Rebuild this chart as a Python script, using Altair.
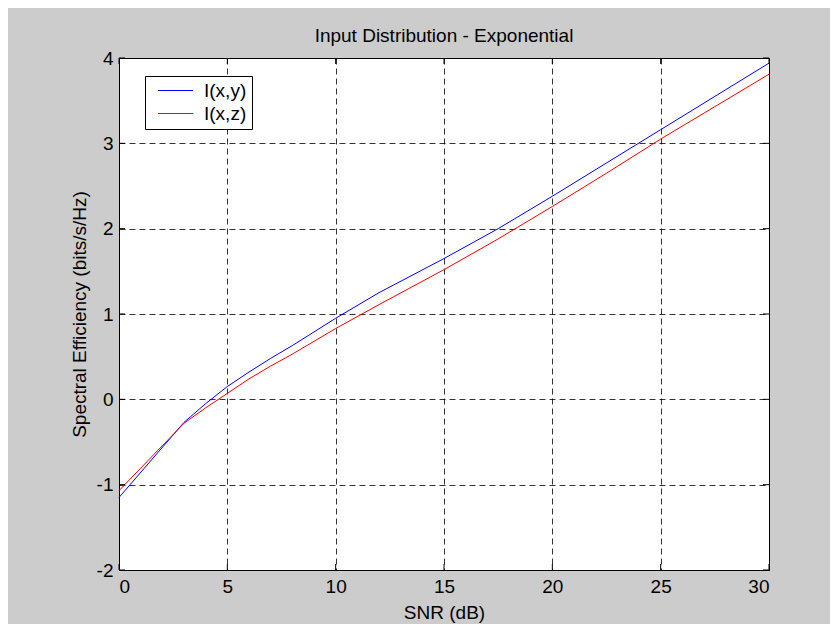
import altair as alt
import pandas as pd

snr = [0, 3, 4, 5, 6, 7, 8, 9, 10, 12, 15, 17.5, 20, 22.5, 25, 27.5, 30]
ixy = [-1.15, -0.27, -0.05, 0.15, 0.32, 0.48, 0.63, 0.79, 0.95, 1.25, 1.65, 2.00, 2.38, 2.77, 3.16, 3.55, 3.94]
ixz = [-1.07, -0.28, -0.10, 0.07, 0.24, 0.39, 0.53, 0.68, 0.83, 1.11, 1.52, 1.88, 2.26, 2.65, 3.05, 3.43, 3.81]
series = ["I(x,y)", "I(x,z)"]
xticks = [0, 5, 10, 15, 20, 25, 30]
yticks = [-2, -1, 0, 1, 2, 3, 4]

rows = []
for s, vals in zip(series, [ixy, ixz]):
    for x, y in zip(snr, vals):
        rows.append({"snr": x, "val": y, "series": s})
df = pd.DataFrame(rows)
dx = pd.DataFrame({"t": xticks})
dy = pd.DataFrame({"t": yticks})

W, H = 650, 512
FONT = "Liberation Sans"
FS = 19

xs = alt.Scale(domain=[0, 30], nice=False, zero=False)
ys = alt.Scale(domain=[-2, 4], nice=False, zero=False)

lines = alt.Chart(df).mark_line(strokeWidth=1).encode(
    x=alt.X("snr:Q", scale=xs, title="SNR (dB)",
            axis=alt.Axis(values=xticks, labelExpr="datum.value + ''", grid=True, gridDash=[6, 4],
                          gridColor="#000000", gridOpacity=0.8, ticks=False, labelPadding=7,
                          titlePadding=7, domainColor="#000000", labelFontSize=FS, titleFontSize=FS)),
    y=alt.Y("val:Q", scale=ys, title="Spectral Efficiency (bits/s/Hz)",
            axis=alt.Axis(values=yticks, labelExpr="datum.value + ''", grid=True, gridDash=[6, 4],
                          gridColor="#000000", gridOpacity=0.8, ticks=False, labelPadding=6,
                          titlePadding=7, domainColor="#000000", labelFontSize=FS, titleFontSize=FS)),
    color=alt.Color("series:N", scale=alt.Scale(domain=series, range=["#0000ff", "#ff0000"]),
                    legend=alt.Legend(title=None, orient="none", legendX=26, legendY=18,
                                      fillColor="#ffffff", strokeColor="#000000",
                                      padding=5, symbolType="M-2,0H2", symbolSize=306,
                                      symbolOffset=16, symbolStrokeWidth=1.2,
                                      labelFontSize=FS, labelOffset=19,
                                      rowPadding=3, labelColor="#000000", labelFont=FONT)),
)

tl = 6
bottom_t = alt.Chart(dx).mark_rule(color="#000000").encode(
    x=alt.X("t:Q", scale=xs), y=alt.value(H), y2=alt.value(H - tl))
top_t = alt.Chart(dx).mark_rule(color="#000000").encode(
    x=alt.X("t:Q", scale=xs), y=alt.value(0), y2=alt.value(tl))
left_t = alt.Chart(dy).mark_rule(color="#000000").encode(
    y=alt.Y("t:Q", scale=ys), x=alt.value(0), x2=alt.value(tl))
right_t = alt.Chart(dy).mark_rule(color="#000000").encode(
    y=alt.Y("t:Q", scale=ys), x=alt.value(W), x2=alt.value(W - tl))

chart = alt.layer(lines, bottom_t, top_t, left_t, right_t).properties(
    width=W, height=H,
    title=alt.TitleParams("Input Distribution - Exponential", fontSize=FS, fontWeight="normal",
                          font=FONT, color="#000000", offset=3),
    autosize=alt.AutoSizeParams(type="none"),
    padding={"left": 111, "top": 50, "right": 61, "bottom": 54},
).configure(
    background="#cccccc", font=FONT
).configure_view(
    stroke="#000000", strokeWidth=1, fill="#ffffff"
).configure_axis(
    labelFont=FONT, titleFont=FONT, labelColor="#000000", titleColor="#000000",
    titleFontWeight="normal"
)

chart.save("out.html", embed_options={"renderer": "svg", "actions": False})
